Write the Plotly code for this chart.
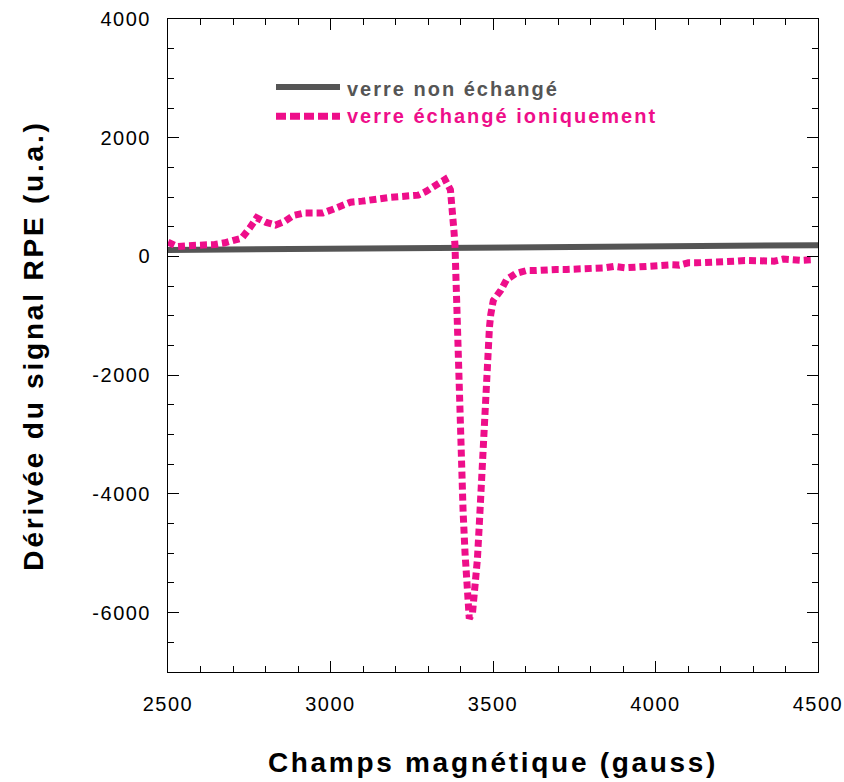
import plotly.graph_objects as go

# --- Data ---
field_gray = [2500, 2650, 2800, 3000, 3200, 3400, 3600, 3800, 4000, 4250, 4500]
rpe_gray = [110, 115, 125, 135, 145, 150, 160, 170, 175, 185, 190]

field_pink = [2500, 2529, 2559, 2583, 2612, 2644, 2675, 2701, 2727, 2752, 2773, 2802,
              2831, 2857, 2886, 2918, 2947, 2976, 3006, 3031, 3062, 3097, 3130, 3152,
              3181, 3212, 3239, 3270, 3294, 3321, 3352, 3369, 3374, 3377, 3380, 3383,
              3386, 3389, 3393, 3397, 3402, 3408, 3414, 3420, 3424, 3427, 3437, 3445,
              3452, 3458, 3462, 3465, 3470, 3474, 3478, 3483, 3489, 3493, 3501, 3524,
              3542, 3569, 3604, 3634, 3665, 3694, 3727, 3755, 3783, 3814, 3845, 3873,
              3908, 3937, 3966, 3993, 4024, 4050, 4073, 4101, 4127, 4155, 4186, 4214,
              4248, 4275, 4301, 4335, 4365, 4393, 4422, 4448, 4480]
rpe_pink = [241, 168, 180, 180, 197, 202, 230, 258, 309, 483, 652, 573,
            528, 584, 691, 730, 730, 730, 792, 848, 915, 932, 944, 972,
            994, 1011, 1033, 1033, 1095, 1196, 1297, 1124, 898, 652, 421, 185,
            -400, -1300, -2000, -2600, -3500, -4300, -5000, -5600, -5900, -6100, -6000, -5640,
            -5100, -4500, -4000, -3550, -3050, -2500, -1900, -1500, -1200, -980, -740, -570,
            -390, -290, -236, -236, -219, -219, -219, -219, -219, -219, -191, -168,
            -191, -180, -168, -146, -146, -141, -146, -107, -107, -107, -96, -96,
            -79, -67, -67, -79, -79, -45, -67, -67, -56]

x_ticks = [2500, 3000, 3500, 4000, 4500]
y_ticks = [-6000, -4000, -2000, 0, 2000, 4000]

series_names = ["verre non échangé", "verre échangé ioniquement"]
x_title = "Champs magnétique (gauss)"
y_title = "Dérivée du signal RPE (u.a.)"

GRAY = "#555555"
PINK = "#EE0E8A"
FONT = "Liberation Sans, Arial, sans-serif"


def spaced(t, sp):
    return f'<span style="letter-spacing:{sp}px">{t}</span>'


fig = go.Figure()
fig.add_trace(go.Scatter(x=field_gray, y=rpe_gray, mode="lines",
                         line=dict(color=GRAY, width=6), name=series_names[0],
                         showlegend=False))
fig.add_trace(go.Scatter(x=field_pink, y=rpe_pink, mode="lines",
                         line=dict(color=PINK, width=7, dash="7px,4px"),
                         name=series_names[1], showlegend=False))

# Legend drawn manually (swatches + coloured text)
lx0, lx1 = (276 - 168) / 650, (340 - 168) / 650
ly_g, ly_p = (672 - 88) / 652, (672 - 117) / 652
fig.add_shape(type="line", xref="paper", yref="paper", x0=lx0, x1=lx1, y0=ly_g, y1=ly_g,
              line=dict(color=GRAY, width=6))
fig.add_shape(type="line", xref="paper", yref="paper", x0=lx0, x1=lx1, y0=ly_p, y1=ly_p,
              line=dict(color=PINK, width=7, dash="10px,4px"))
tx = (345 - 168) / 650
fig.add_annotation(xref="paper", yref="paper", x=tx, y=(672 - 90) / 652, xanchor="left",
                   yanchor="middle", showarrow=False,
                   text="<b>" + spaced(series_names[0], 2) + "</b>",
                   font=dict(family=FONT, size=20, color=GRAY))
fig.add_annotation(xref="paper", yref="paper", x=tx, y=(672 - 117) / 652, xanchor="left",
                   yanchor="middle", showarrow=False,
                   text="<b>" + spaced(series_names[1], 2) + "</b>",
                   font=dict(family=FONT, size=20, color=PINK))

axis_common = dict(showline=True, linecolor="#000000", linewidth=1, mirror="allticks",
                   ticks="inside", ticklen=11, tickcolor="#000000", tickwidth=1,
                   showgrid=False, zeroline=False, ticklabeloverflow="allow",
                   automargin=False,
                   tickfont=dict(family=FONT, size=20, color="#000000"))

fig.update_xaxes(range=[2500, 4500], tickvals=x_ticks,
                 ticktext=[spaced(str(v), 1.5) for v in x_ticks],
                 minor=dict(dtick=100, ticks="inside", ticklen=6, tickcolor="#000000"),
                 ticklabelstandoff=14,
                 title=dict(text="<b>" + spaced(x_title, 2.7) + "</b>", standoff=38,
                            font=dict(family=FONT, size=28, color="#000000")),
                 **axis_common)
fig.update_yaxes(range=[-7000, 4000], tickvals=y_ticks,
                 ticktext=[spaced(str(v), 1.5) for v in y_ticks],
                 minor=dict(dtick=500, tick0=0, ticks="inside", ticklen=6, tickcolor="#000000"),
                 ticklabelstandoff=12,
                 title=dict(text="<b>" + spaced(y_title, 2.8) + "</b>", standoff=40,
                            font=dict(family=FONT, size=28, color="#000000")),
                 **axis_common)

fig.update_layout(width=844, height=782, margin=dict(l=168, r=26, t=19, b=110),
                  plot_bgcolor="white", paper_bgcolor="white", showlegend=False)

fig.write_html("out.html")
